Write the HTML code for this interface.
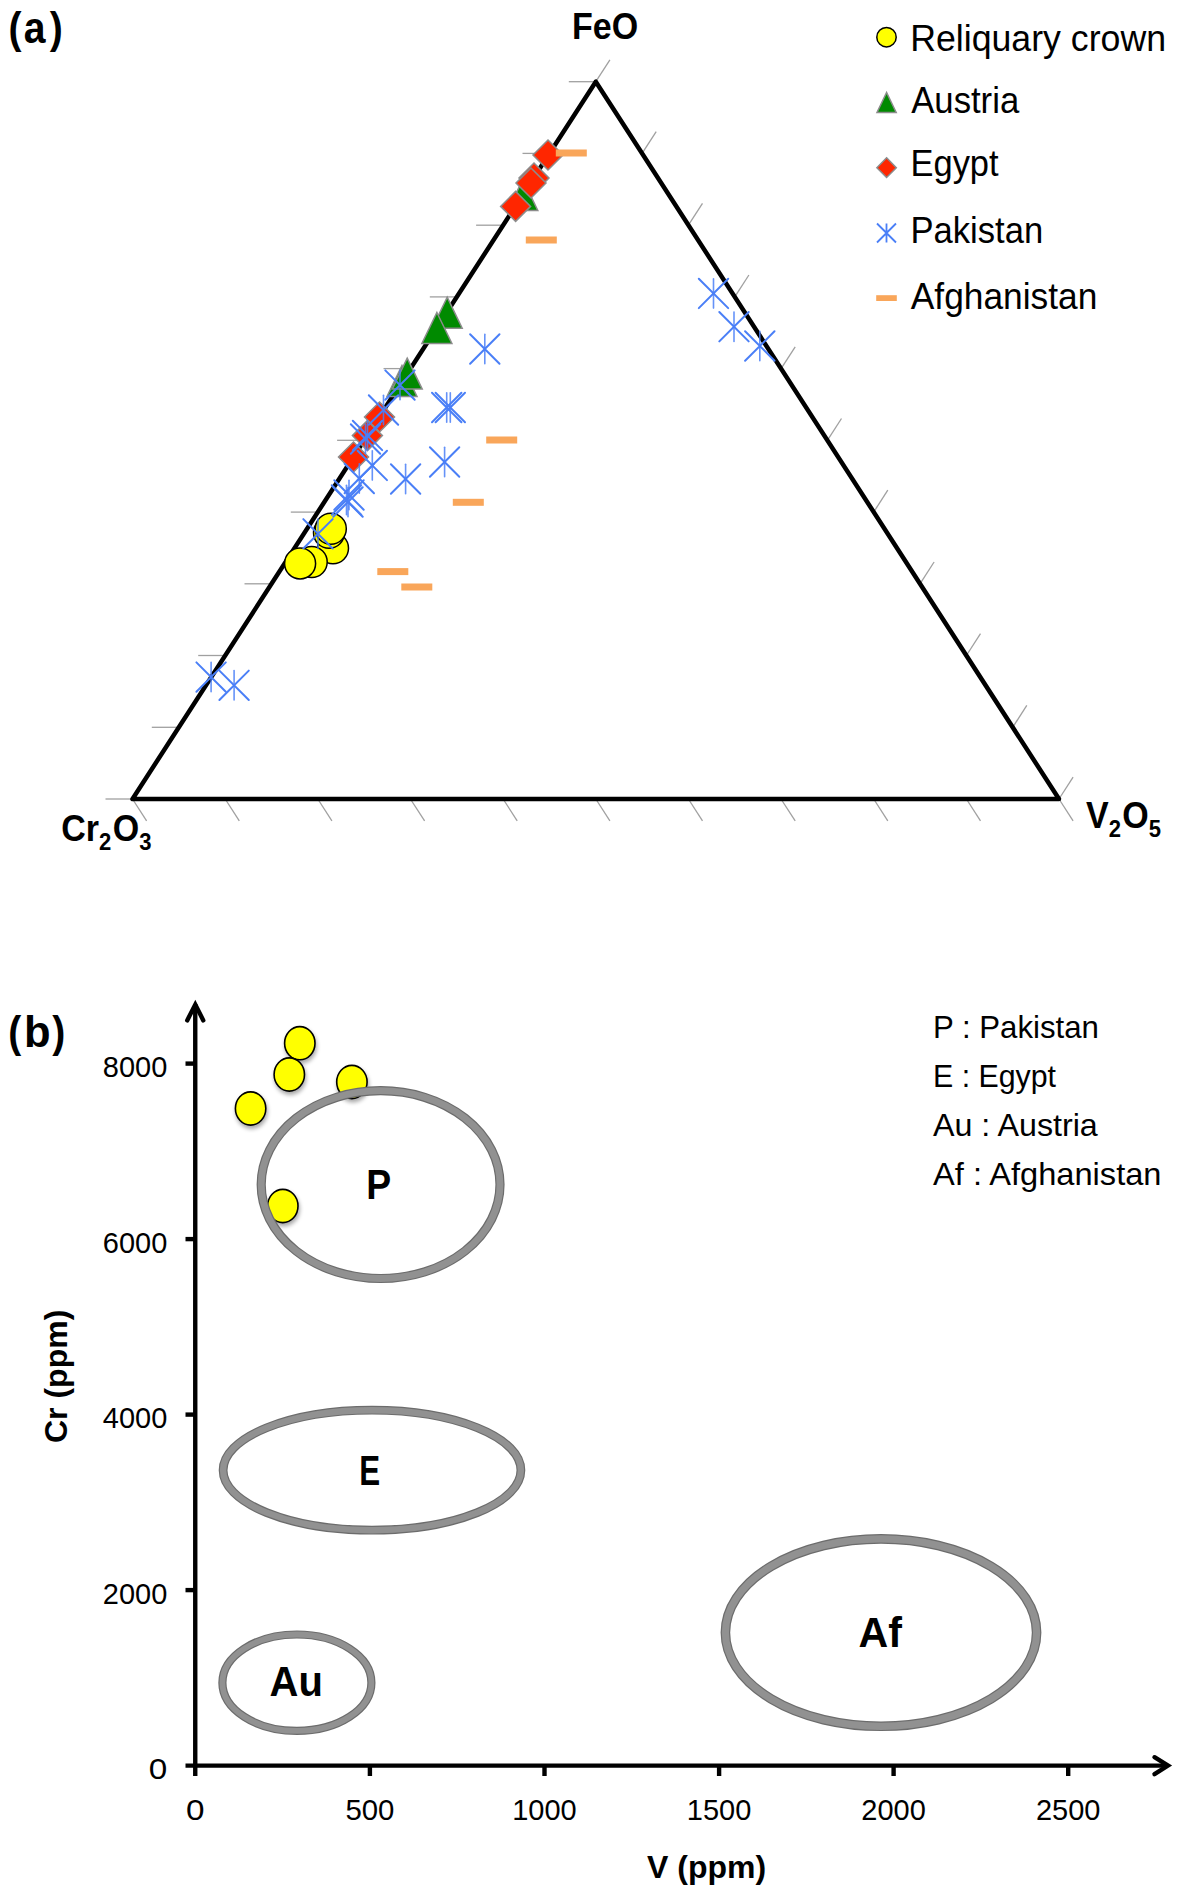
<!DOCTYPE html>
<html><head><meta charset="utf-8"><style>
html,body{margin:0;padding:0;background:#fff;width:1183px;height:1896px;overflow:hidden}
svg{display:block}
text{font-family:"Liberation Sans",sans-serif}
</style></head><body>
<svg width="1183" height="1896" viewBox="0 0 1183 1896">
<rect width="1183" height="1896" fill="#fff"/>
<g font-family="Liberation Sans, sans-serif" font-weight="bold" fill="#000">
<text x="9.55 26.9 56.5" y="43.5" font-size="44.4" transform="scale(0.88,1)">(a)</text>
<text transform="translate(572 39.3) scale(0.92 1)" font-size="37">FeO</text>
<text transform="translate(61.2 841) scale(0.92 1)" font-size="37">Cr<tspan font-size="24" dy="8.7">2</tspan><tspan dx="1.6" dy="-8.7">O</tspan><tspan font-size="24" dy="8.7">3</tspan></text>
<text transform="translate(1086 828.4) scale(0.92 1)" font-size="37">V<tspan font-size="24" dy="8.9">2</tspan><tspan dx="1.3" dy="-8.9">O</tspan><tspan font-size="24" dy="8.9">5</tspan></text>
</g>
<g stroke="#a0a0a0" stroke-width="1.3" fill="none"><line x1="595.8" y1="81.7" x2="568.8" y2="81.7"/><line x1="549.5" y1="153.4" x2="522.5" y2="153.4"/><line x1="503.1" y1="225.2" x2="476.1" y2="225.2"/><line x1="456.8" y1="296.9" x2="429.8" y2="296.9"/><line x1="410.5" y1="368.6" x2="383.5" y2="368.6"/><line x1="364.1" y1="440.3" x2="337.1" y2="440.3"/><line x1="317.8" y1="512.1" x2="290.8" y2="512.1"/><line x1="271.5" y1="583.8" x2="244.5" y2="583.8"/><line x1="225.2" y1="655.5" x2="198.2" y2="655.5"/><line x1="178.8" y1="727.3" x2="151.8" y2="727.3"/><line x1="132.5" y1="799" x2="105.5" y2="799"/><line x1="595.8" y1="81.7" x2="609.9" y2="59.9"/><line x1="642.1" y1="153.4" x2="656.2" y2="131.6"/><line x1="688.4" y1="225.2" x2="702.5" y2="203.3"/><line x1="734.8" y1="296.9" x2="748.9" y2="275"/><line x1="781.1" y1="368.6" x2="795.2" y2="346.8"/><line x1="827.4" y1="440.3" x2="841.5" y2="418.5"/><line x1="873.7" y1="512.1" x2="887.8" y2="490.2"/><line x1="920" y1="583.8" x2="934.1" y2="562"/><line x1="966.4" y1="655.5" x2="980.5" y2="633.7"/><line x1="1012.7" y1="727.3" x2="1026.8" y2="705.4"/><line x1="1059" y1="799" x2="1073.1" y2="777.2"/><line x1="132.5" y1="799" x2="146.6" y2="820.8"/><line x1="225.2" y1="799" x2="239.3" y2="820.8"/><line x1="317.8" y1="799" x2="331.9" y2="820.8"/><line x1="410.4" y1="799" x2="424.6" y2="820.8"/><line x1="503.1" y1="799" x2="517.2" y2="820.8"/><line x1="595.8" y1="799" x2="609.9" y2="820.8"/><line x1="688.4" y1="799" x2="702.5" y2="820.8"/><line x1="781" y1="799" x2="795.2" y2="820.8"/><line x1="873.7" y1="799" x2="887.8" y2="820.8"/><line x1="966.4" y1="799" x2="980.5" y2="820.8"/><line x1="1059" y1="799" x2="1073.1" y2="820.8"/></g>
<path d="M132.5 799L1059 799L595.8 81.7Z" fill="none" stroke="#000" stroke-width="4.5" stroke-linejoin="round"/>
<g fill="#ffff00" stroke="#000" stroke-width="1.5"><circle cx="333" cy="548.3" r="15.5"/><circle cx="329" cy="532.7" r="15.5"/><circle cx="330.8" cy="528.8" r="15.5"/><circle cx="311.7" cy="562" r="15.5"/><circle cx="300.1" cy="563.4" r="15.5"/></g>
<g fill="#008a00" stroke="#8c8c8c" stroke-width="1.5"><path d="M447.2 297.2L462.2 328.2L432.2 328.2Z"/><path d="M436.9 312.5L451.9 343.5L421.9 343.5Z"/><path d="M402 365.5L417 396.5L387 396.5Z"/><path d="M407.2 358.1L422.2 389.1L392.2 389.1Z"/><path d="M522.8 179.4L537.8 210.4L507.8 210.4Z"/></g>
<g fill="#ff2600" stroke="#8c8c8c" stroke-width="1.5"><path d="M548 140L563 155L548 170L533 155Z"/><path d="M534 163L549 178L534 193L519 178Z"/><path d="M531 168L546 183L531 198L516 183Z"/><path d="M515.6 191.4L530.6 206.4L515.6 221.4L500.6 206.4Z"/><path d="M379.5 402L394.5 417L379.5 432L364.5 417Z"/><path d="M367.4 420.6L382.4 435.6L367.4 450.6L352.4 435.6Z"/><path d="M353.5 442L368.5 457L353.5 472L338.5 457Z"/></g>
<g fill="none" stroke="#4a7ff7" stroke-width="2" stroke-linecap="round"><path d="M196.4 662.4L225.8 691.8M196.4 691.8L225.8 662.4"/><path stroke-width="1.6" stroke-opacity="0.85" d="M211.1 662.4V691.8"/><path d="M219.4 670.6L248.8 700M219.4 700L248.8 670.6"/><path stroke-width="1.6" stroke-opacity="0.85" d="M234.1 670.6V700"/><path d="M698.8 278.7L728.2 308.1M698.8 308.1L728.2 278.7"/><path stroke-width="1.6" stroke-opacity="0.85" d="M713.5 278.7V308.1"/><path d="M719.3 312L748.7 341.4M719.3 341.4L748.7 312"/><path stroke-width="1.6" stroke-opacity="0.85" d="M734 312V341.4"/><path d="M745.1 331.3L774.5 360.7M745.1 360.7L774.5 331.3"/><path stroke-width="1.6" stroke-opacity="0.85" d="M759.8 331.3V360.7"/><path d="M470.1 334.3L499.5 363.7M470.1 363.7L499.5 334.3"/><path stroke-width="1.6" stroke-opacity="0.85" d="M484.8 334.3V363.7"/><path d="M432 392.8L461.4 422.2M432 422.2L461.4 392.8"/><path stroke-width="1.6" stroke-opacity="0.85" d="M446.7 392.8V422.2"/><path d="M435.6 392.8L465 422.2M435.6 422.2L465 392.8"/><path stroke-width="1.6" stroke-opacity="0.85" d="M450.3 392.8V422.2"/><path d="M429.9 447.3L459.3 476.7M429.9 476.7L459.3 447.3"/><path stroke-width="1.6" stroke-opacity="0.85" d="M444.6 447.3V476.7"/><path d="M390.9 464.3L420.3 493.7M390.9 493.7L420.3 464.3"/><path stroke-width="1.6" stroke-opacity="0.85" d="M405.6 464.3V493.7"/><path d="M385.3 370.4L414.7 399.8M385.3 399.8L414.7 370.4"/><path stroke-width="1.6" stroke-opacity="0.85" d="M400 370.4V399.8"/><path d="M368.8 395.3L398.2 424.7M368.8 424.7L398.2 395.3"/><path stroke-width="1.6" stroke-opacity="0.85" d="M383.5 395.3V424.7"/><path d="M350.8 424.3L380.2 453.7M350.8 453.7L380.2 424.3"/><path stroke-width="1.6" stroke-opacity="0.85" d="M365.5 424.3V453.7"/><path d="M352.8 420.7L382.2 450.1M352.8 450.1L382.2 420.7"/><path stroke-width="1.6" stroke-opacity="0.85" d="M367.5 420.7V450.1"/><path d="M357.6 450.7L387 480.1M357.6 480.1L387 450.7"/><path stroke-width="1.6" stroke-opacity="0.85" d="M372.3 450.7V480.1"/><path d="M344.6 463.8L374 493.2M344.6 493.2L374 463.8"/><path stroke-width="1.6" stroke-opacity="0.85" d="M359.3 463.8V493.2"/><path d="M334.3 480.3L363.7 509.7M334.3 509.7L363.7 480.3"/><path stroke-width="1.6" stroke-opacity="0.85" d="M349 480.3V509.7"/><path d="M331.8 485.3L361.2 514.7M331.8 514.7L361.2 485.3"/><path stroke-width="1.6" stroke-opacity="0.85" d="M346.5 485.3V514.7"/><path d="M333.3 487.3L362.7 516.7M333.3 516.7L362.7 487.3"/><path stroke-width="1.6" stroke-opacity="0.85" d="M348 487.3V516.7"/><path d="M303.3 519.1L332.7 548.5M303.3 548.5L332.7 519.1"/><path stroke-width="1.6" stroke-opacity="0.85" d="M318 519.1V548.5"/></g>
<g fill="#f9a65a"><rect x="555.8" y="149.5" width="31" height="7"/><rect x="525.8" y="236.5" width="31" height="7"/><rect x="486.2" y="436.5" width="31" height="7"/><rect x="452.8" y="498.8" width="31" height="7"/><rect x="377.3" y="568.1" width="31" height="7"/><rect x="401.3" y="583.5" width="31" height="7"/></g>
<circle cx="886.5" cy="37.2" r="9.7" fill="#ffff00" stroke="#000" stroke-width="1.5"/>
<path d="M886.6 92.5L896.2 112.4L877 112.4Z" fill="#008a00" stroke="#8c8c8c" stroke-width="1.5"/>
<path d="M886.6 157.8L896.3 167.7L886.6 177.5L876.9 167.7Z" fill="#ff2600" stroke="#8c8c8c" stroke-width="1.5"/>
<path d="M886.5 223.5V242.5M877 223.5L896 242.5M877 242.5L896 223.5" fill="none" stroke="#4a7ff7" stroke-width="1.8"/>
<rect x="876.2" y="295.2" width="20.6" height="5.8" fill="#f9a65a"/>
<g font-family="Liberation Sans, sans-serif" font-size="36" fill="#000">
<text x="910.2" y="50.9" textLength="255.9" lengthAdjust="spacingAndGlyphs">Reliquary crown</text>
<text x="911.2" y="112.8" textLength="108" lengthAdjust="spacingAndGlyphs">Austria</text>
<text x="910.5" y="176.3" textLength="88.1" lengthAdjust="spacingAndGlyphs">Egypt</text>
<text x="910.5" y="242.8" textLength="132.7" lengthAdjust="spacingAndGlyphs">Pakistan</text>
<text x="910.8" y="309.1" textLength="186.6" lengthAdjust="spacingAndGlyphs">Afghanistan</text>
</g>
<g font-family="Liberation Sans, sans-serif" font-weight="bold" font-size="44.4"><text x="9.43" y="1046.7" transform="scale(0.88,1)">(</text><text x="24.44" y="1046.7" transform="scale(0.98,1)">b</text><text x="59.3" y="1046.7" transform="scale(0.88,1)">)</text></g>
<defs><filter id="sh" x="-50%" y="-50%" width="200%" height="200%"><feGaussianBlur in="SourceAlpha" stdDeviation="2"/><feOffset dx="0.5" dy="3" result="b"/><feComponentTransfer><feFuncA type="linear" slope="0.35"/></feComponentTransfer><feMerge><feMergeNode/><feMergeNode in="SourceGraphic"/></feMerge></filter></defs>
<g fill="#ffff00" stroke="#000" stroke-width="1.6" filter="url(#sh)"><ellipse cx="299.8" cy="1043.2" rx="15.2" ry="16.6"/><ellipse cx="289.3" cy="1074.5" rx="15.2" ry="16.6"/><ellipse cx="351.9" cy="1082" rx="15.2" ry="16.6"/><ellipse cx="250.6" cy="1108.5" rx="15.2" ry="16.6"/><ellipse cx="282.8" cy="1206" rx="15.2" ry="16.6"/></g>
<ellipse cx="380.6" cy="1184.6" rx="119.4" ry="93.9" fill="none" stroke="#6c6c6c" stroke-width="9.2"/>
<ellipse cx="380.6" cy="1184.6" rx="119.4" ry="93.9" fill="none" stroke="#919191" stroke-width="6.8"/>
<ellipse cx="372" cy="1470.2" rx="148.9" ry="60" fill="none" stroke="#6c6c6c" stroke-width="8.8"/>
<ellipse cx="372" cy="1470.2" rx="148.9" ry="60" fill="none" stroke="#919191" stroke-width="6.4"/>
<ellipse cx="296.9" cy="1682.7" rx="74.5" ry="48.2" fill="none" stroke="#6c6c6c" stroke-width="8.2"/>
<ellipse cx="296.9" cy="1682.7" rx="74.5" ry="48.2" fill="none" stroke="#919191" stroke-width="5.8"/>
<ellipse cx="881" cy="1632.6" rx="155.6" ry="93.7" fill="none" stroke="#6c6c6c" stroke-width="9.6"/>
<ellipse cx="881" cy="1632.6" rx="155.6" ry="93.7" fill="none" stroke="#919191" stroke-width="7.2"/>
<g stroke="#000" stroke-width="4.4" fill="none">
<path d="M195.25 1776V1004"/>
<path d="M185.5 1765.6H1168"/>
<path d="M369.9 1765.6V1776"/>
<path d="M544.5 1765.6V1776"/>
<path d="M719.1 1765.6V1776"/>
<path d="M893.6 1765.6V1776"/>
<path d="M1068.2 1765.6V1776"/>
<path d="M185.5 1590.1H195.25"/>
<path d="M185.5 1414.6H195.25"/>
<path d="M185.5 1239.1H195.25"/>
<path d="M185.5 1063.6H195.25"/>
<path d="M187.2 1020.4L195.3 1004.5L203.3 1020.4" stroke-linecap="round" stroke-linejoin="miter"/>
<path d="M1154.5 1757.2L1168 1765.6L1154.5 1774.2" stroke-linecap="round" stroke-linejoin="miter"/>
</g>
<g font-family="Liberation Sans, sans-serif" font-size="29.5" fill="#000">
<text x="167.3" y="1779.3" text-anchor="end" textLength="18.5" lengthAdjust="spacingAndGlyphs">0</text>
<text x="167.3" y="1603.8" text-anchor="end" textLength="64.5" lengthAdjust="spacingAndGlyphs">2000</text>
<text x="167.3" y="1428.3" text-anchor="end" textLength="64.5" lengthAdjust="spacingAndGlyphs">4000</text>
<text x="167.3" y="1252.8" text-anchor="end" textLength="64.5" lengthAdjust="spacingAndGlyphs">6000</text>
<text x="167.3" y="1077.3" text-anchor="end" textLength="64.5" lengthAdjust="spacingAndGlyphs">8000</text>
<text x="195.2" y="1819.6" text-anchor="middle" textLength="18.5" lengthAdjust="spacingAndGlyphs">0</text>
<text x="369.9" y="1819.6" text-anchor="middle" textLength="49" lengthAdjust="spacingAndGlyphs">500</text>
<text x="544.5" y="1819.6" text-anchor="middle" textLength="64.5" lengthAdjust="spacingAndGlyphs">1000</text>
<text x="719.1" y="1819.6" text-anchor="middle" textLength="64.5" lengthAdjust="spacingAndGlyphs">1500</text>
<text x="893.6" y="1819.6" text-anchor="middle" textLength="64.5" lengthAdjust="spacingAndGlyphs">2000</text>
<text x="1068.2" y="1819.6" text-anchor="middle" textLength="64.5" lengthAdjust="spacingAndGlyphs">2500</text>
</g>
<g font-family="Liberation Sans, sans-serif" font-weight="bold" fill="#000">
<text x="647" y="1877.6" font-size="32">V (ppm)</text>
<text transform="translate(67.2 1443) rotate(-90)" x="0" y="0" font-size="32">Cr (ppm)</text>
<text x="378.8" y="1199" font-size="43" text-anchor="middle" textLength="24.9" lengthAdjust="spacingAndGlyphs">P</text>
<text x="369.6" y="1485" font-size="43" text-anchor="middle" textLength="20.9" lengthAdjust="spacingAndGlyphs">E</text>
<text x="296.2" y="1696.4" font-size="43" text-anchor="middle" textLength="53.3" lengthAdjust="spacingAndGlyphs">Au</text>
<text x="880.3" y="1647.3" font-size="43" text-anchor="middle" textLength="43.4" lengthAdjust="spacingAndGlyphs">Af</text>
</g>
<g font-family="Liberation Sans, sans-serif" font-size="30.5" fill="#000">
<text x="933" y="1037.8" textLength="165.9" lengthAdjust="spacingAndGlyphs">P : Pakistan</text>
<text x="933" y="1086.9" textLength="123" lengthAdjust="spacingAndGlyphs">E : Egypt</text>
<text x="933" y="1135.9" textLength="164.8" lengthAdjust="spacingAndGlyphs">Au : Austria</text>
<text x="933" y="1185" textLength="228.5" lengthAdjust="spacingAndGlyphs">Af : Afghanistan</text>
</g>
</svg>
</body></html>
